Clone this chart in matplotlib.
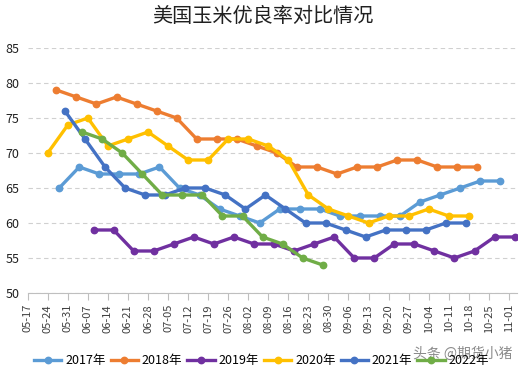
import matplotlib
matplotlib.use("Agg")
import matplotlib.pyplot as plt
import matplotlib.dates as mdates
import pandas as pd

plt.rcParams['font.family'] = ['Noto Sans CJK SC', 'DejaVu Sans']

# 每周优良率 (%)，日期统一映射到2020年的日历上
years = ['2017年', '2018年', '2019年', '2020年', '2021年', '2022年']
colors = ['#5B9BD5', '#ED7D31', '#7030A0', '#FFC000', '#4472C4', '#70AD47']
first_week = ['2020-05-28', '2020-05-27', '2020-06-09', '2020-05-24', '2020-05-30', '2020-06-05']

v2017 = [65, 68, 67, 67, 67, 68, 65, 64, 62, 61, 60, 62, 62, 62, 61, 61, 61, 61, 63, 64, 65, 66, 66]
v2018 = [79, 78, 77, 78, 77, 76, 75, 72, 72, 72, 71, 70, 68, 68, 67, 68, 68, 69, 69, 68, 68, 68]
v2019 = [59, 59, 56, 56, 57, 58, 57, 58, 57, 57, 56, 57, 58, 55, 55, 57, 57, 56, 55, 56, 58, 58]
v2020 = [70, 74, 75, 71, 72, 73, 71, 69, 69, 72, 72, 71, 69, 64, 62, 61, 60, 61, 61, 62, 61, 61]
v2021 = [76, 72, 68, 65, 64, 64, 65, 65, 64, 62, 64, 62, 60, 60, 59, 58, 59, 59, 59, 60, 60]
v2022 = [73, 72, 70, 67, 64, 64, 64, 61, 61, 58, 57, 55, 54]
values = [v2017, v2018, v2019, v2020, v2021, v2022]

tick_start = '2020-05-17'
tick_end = '2020-11-01'

fig = plt.figure(figsize=(5.23, 3.73), dpi=100)
ax = fig.add_axes([0.053, 0.2145, 0.9355, 0.6568])

for name, c, start, v in zip(years, colors, first_week, values):
    d = pd.date_range(start, periods=len(v), freq='7D')
    ax.plot(d, v, color=c, lw=2.4, marker='o', ms=4.6, label=name)

ticks = pd.date_range(tick_start, tick_end, freq='7D')
ax.set_xticks(ticks)
ax.xaxis.set_major_formatter(mdates.DateFormatter('%m-%d'))
ax.set_xlim(pd.Timestamp(tick_start), pd.Timestamp('2020-11-03 20:00'))
ax.set_ylim(50, 85)
ax.set_yticks(range(50, 90, 5))

ax.grid(axis='y', color='#d0d0d0', ls=(0, (4, 3)), lw=0.8)
ax.set_axisbelow(True)
for s in ['top', 'right', 'left']:
    ax.spines[s].set_visible(False)
ax.spines['bottom'].set_color('#bfbfbf')
ax.tick_params(axis='x', length=5, color='#bfbfbf', labelsize=8, rotation=90, pad=3, labelcolor='#404040')
ax.tick_params(axis='y', length=0, labelsize=9, pad=6, labelcolor='#202020')

fig.suptitle('美国玉米优良率对比情况', x=0.503, y=0.985, fontsize=14.5, color='#202020')

fig.legend(loc='center', bbox_to_anchor=(0.5, 0.033), ncol=6, frameon=False, fontsize=9,
           handlelength=2.2, handletextpad=0.3, columnspacing=0.4)

# 水印
fig.text(0.885, 0.052, '头条 @期货小猪', fontsize=10, color='#777777', alpha=0.85, ha='center', va='center')

fig.savefig('out.png', dpi=100)
